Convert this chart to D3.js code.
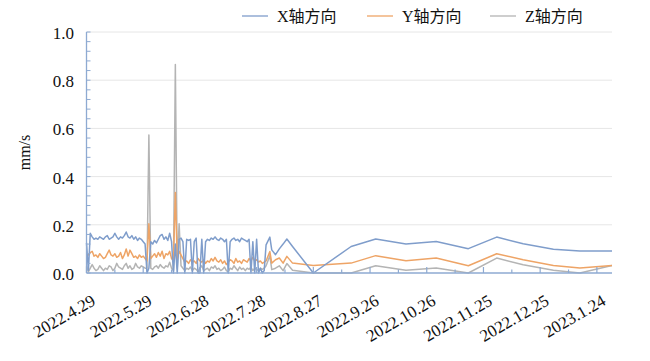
<!DOCTYPE html>
<html><head><meta charset="utf-8">
<script src="https://cdn.jsdelivr.net/npm/d3@7"></script>
<style>body{margin:0;background:#fff}svg{display:block}</style>
</head><body>
<svg id="c" width="650" height="361"></svg>
<script>
// ---- data ----
const seriesNames = ["X轴方向", "Y轴方向", "Z轴方向"];
const dates = [
"2022-04-29","2022-04-30","2022-05-01","2022-05-02","2022-05-03","2022-05-04","2022-05-05","2022-05-06","2022-05-07","2022-05-08",
"2022-05-09","2022-05-10","2022-05-11","2022-05-12","2022-05-13","2022-05-14","2022-05-15","2022-05-16","2022-05-17","2022-05-18",
"2022-05-19","2022-05-20","2022-05-21","2022-05-22","2022-05-23","2022-05-24","2022-05-25","2022-05-26","2022-05-27","2022-05-28",
"2022-05-29","2022-05-30","2022-05-31","2022-06-01","2022-06-02","2022-06-03","2022-06-04","2022-06-05","2022-06-06","2022-06-07",
"2022-06-08","2022-06-09","2022-06-10","2022-06-11","2022-06-12","2022-06-13","2022-06-14","2022-06-15","2022-06-16","2022-06-17",
"2022-06-18","2022-06-19","2022-06-20","2022-06-21","2022-06-22","2022-06-23","2022-06-24","2022-06-25","2022-06-26","2022-06-27",
"2022-06-28","2022-06-29","2022-06-30","2022-07-01","2022-07-02","2022-07-03","2022-07-04","2022-07-05","2022-07-06","2022-07-07",
"2022-07-08","2022-07-09","2022-07-10","2022-07-11","2022-07-12","2022-07-13","2022-07-14","2022-07-15","2022-07-16","2022-07-17",
"2022-07-18","2022-07-19","2022-07-20","2022-07-21","2022-07-22","2022-07-23","2022-07-24","2022-07-25","2022-07-26","2022-07-27",
"2022-07-28","2022-07-29","2022-07-30","2022-07-31","2022-08-01",
"2022-08-02","2022-08-04","2022-08-05","2022-08-07","2022-08-09","2022-08-11","2022-08-13","2022-08-16","2022-08-27","2022-09-16",
"2022-09-29","2022-10-15","2022-10-31","2022-11-17","2022-12-02","2022-12-16","2023-01-01","2023-01-15","2023-02-01"
];
const xValues = [
0.125,0.01,0.165,0.15,0.14,0.145,0.14,0.15,0.145,0.14,
0.15,0.155,0.14,0.145,0.15,0.165,0.15,0.14,0.15,0.145,
0.155,0.17,0.15,0.145,0.155,0.14,0.15,0.135,0.145,0.14,
0.13,0.12,0.0,0.02,0.13,0.12,0.135,0.125,0.14,0.155,
0.16,0.14,0.15,0.135,0.165,0.13,0.0,0.12,0.0,0.14,
0.145,0.13,0.0,0.14,0.135,0.14,0.0,0.13,0.145,0.0,
0.0,0.14,0.0,0.13,0.14,0.135,0.145,0.14,0.15,0.14,
0.135,0.145,0.14,0.13,0.14,0.0,0.13,0.14,0.145,0.135,
0.14,0.13,0.145,0.14,0.135,0.13,0.14,0.0,0.13,0.0,
0.14,0.0,0.02,0.0,0.01,
0.117,0.149,0.096,0.076,0.10,0.12,0.141,0.110,0.0,0.110,
0.141,0.120,0.131,0.101,0.149,0.121,0.099,0.091,0.091
];
const yValues = [
0.07,0.075,0.085,0.09,0.07,0.075,0.065,0.08,0.07,0.06,
0.065,0.08,0.095,0.075,0.07,0.08,0.065,0.07,0.085,0.06,
0.075,0.10,0.07,0.095,0.08,0.065,0.07,0.06,0.075,0.065,
0.07,0.06,0.05,0.204,0.06,0.07,0.08,0.065,0.085,0.07,
0.09,0.06,0.08,0.075,0.09,0.06,0.05,0.334,0.06,0.09,
0.075,0.06,0.045,0.05,0.04,0.055,0.045,0.05,0.04,0.06,
0.05,0.045,0.055,0.04,0.05,0.045,0.06,0.05,0.065,0.05,
0.045,0.055,0.04,0.05,0.035,0.045,0.055,0.05,0.04,0.06,
0.045,0.05,0.04,0.055,0.05,0.045,0.06,0.05,0.065,0.05,
0.055,0.045,0.05,0.04,0.045,
0.05,0.089,0.041,0.055,0.062,0.041,0.069,0.041,0.031,0.041,
0.072,0.051,0.062,0.030,0.080,0.055,0.031,0.021,0.031
];
const zValues = [
0.03,0.005,0.02,0.035,0.02,0.01,0.015,0.03,0.02,0.01,
0.02,0.015,0.03,0.025,0.01,0.02,0.04,0.025,0.02,0.015,
0.03,0.04,0.02,0.03,0.015,0.02,0.04,0.025,0.02,0.03,
0.025,0.02,0.02,0.573,0.02,0.015,0.025,0.03,0.02,0.035,
0.025,0.02,0.03,0.025,0.045,0.02,0.01,0.865,0.02,0.204,
0.03,0.02,0.01,0.02,0.015,0.025,0.01,0.02,0.015,0.005,
0.02,0.03,0.01,0.015,0.02,0.01,0.025,0.02,0.03,0.015,
0.02,0.01,0.015,0.025,0.01,0.005,0.02,0.015,0.03,0.02,
0.01,0.025,0.015,0.02,0.01,0.02,0.015,0.025,0.01,0.02,
0.015,0.01,0.02,0.015,0.02,
0.03,0.072,0.014,0.02,0.030,0.01,0.039,0.011,0.0,0.0,
0.030,0.011,0.021,0.0,0.062,0.034,0.011,0.0,0.031
];
const xTickLabels = ["2022.4.29","2022.5.29","2022.6.28","2022.7.28","2022.8.27","2022.9.26","2022.10.26","2022.11.25","2022.12.25","2023.1.24"];
const yTickValues = [0, 0.2, 0.4, 0.6, 0.8, 1.0];
const yLabel = "mm/s";
const xDomain = ["2022-04-29", "2023-02-01"];

// ---- drawing ----
const colors = ["#7f9dcb", "#eea466", "#b4b4b4"];
const axisColor = "#8eaad2";
const serif = "Liberation Serif, Tinos, Times New Roman, DejaVu Serif, serif";
const mixed = "Liberation Serif, Tinos, Times New Roman, Noto Sans CJK SC, serif";
const parse = d3.timeParse("%Y-%m-%d");
const parseLabel = d3.timeParse("%Y.%m.%d");
const L = 86.5, R = 612, T = 32, B = 273;
const svg = d3.select("#c");
const x = d3.scaleTime().domain(xDomain.map(parse)).range([L, R]);
const y = d3.scaleLinear().domain([0, 1]).range([B, T]);

// gridlines
svg.append("g").selectAll("line").data(yTickValues.filter(v => v > 0)).join("line")
  .attr("x1", L).attr("x2", R).attr("y1", d => y(d)).attr("y2", d => y(d))
  .attr("stroke", "#e6e6e6").attr("stroke-width", 1);

// series
const pts = dates.map(parse);
const series = [xValues, yValues, zValues];
const line = d3.line().x(d => x(d[0])).y(d => y(d[1]));
[2, 1, 0].forEach(i => {
  svg.append("path").datum(pts.map((p, k) => [p, series[i][k]]))
    .attr("d", line).attr("fill", "none").attr("stroke", colors[i])
    .attr("stroke-width", 1.5).attr("stroke-linejoin", "round");
});

// y axis
const yMinor = d3.range(0, 1.0001, 0.04);
const gy = svg.append("g");
gy.append("line").attr("x1", L).attr("x2", L).attr("y1", T).attr("y2", B)
  .attr("stroke", axisColor).attr("stroke-width", 1.3);
gy.selectAll("line.t").data(yMinor).join("line").attr("class", "t")
  .attr("x1", L).attr("x2", L + 4).attr("y1", d => y(d)).attr("y2", d => y(d))
  .attr("stroke", axisColor).attr("stroke-width", 1);
gy.selectAll("text").data(yTickValues).join("text")
  .attr("x", 74).attr("y", d => y(d) + 7).attr("text-anchor", "end")
  .style("font-family", serif).style("font-size", "17px").attr("fill", "#111")
  .text(d => d3.format(".1f")(d));
svg.append("text").attr("transform", `translate(30,${(T + B) / 2}) rotate(-90)`)
  .attr("text-anchor", "middle").style("font-family", serif).style("font-size", "16px")
  .attr("fill", "#111").text(yLabel);

// x axis
const labelDates = xTickLabels.map(parseLabel);
const minorDates = labelDates.map(d => d3.timeDay.offset(d, 15));
const gx = svg.append("g");
gx.append("line").attr("x1", L).attr("x2", R).attr("y1", B).attr("y2", B)
  .attr("stroke", axisColor).attr("stroke-width", 1.5);
gx.selectAll("line.mj").data(labelDates).join("line").attr("class", "mj")
  .attr("x1", d => x(d)).attr("x2", d => x(d)).attr("y1", B).attr("y2", B - 6)
  .attr("stroke", axisColor).attr("stroke-width", 1.2);
gx.selectAll("line.mn").data(minorDates.filter(d => x(d) < R)).join("line").attr("class", "mn")
  .attr("x1", d => x(d)).attr("x2", d => x(d)).attr("y1", B).attr("y2", B - 3.5)
  .attr("stroke", axisColor).attr("stroke-width", 1.2);
gx.selectAll("text").data(xTickLabels).join("text")
  .attr("transform", (d, i) => `translate(${x(labelDates[i]) + 10},304) rotate(-30)`)
  .attr("text-anchor", "end").style("font-family", serif).style("font-size", "17px")
  .attr("fill", "#111").text(d => d);

// legend
const legX = [242, 367, 490];
const lg = svg.append("g");
seriesNames.forEach((n, i) => {
  lg.append("line").attr("x1", legX[i]).attr("x2", legX[i] + 26).attr("y1", 16).attr("y2", 16)
    .attr("stroke", colors[i]).attr("stroke-width", 1.3);
  lg.append("text").attr("x", legX[i] + 35).attr("y", 21.5)
    .style("font-family", mixed).style("font-size", "16px").attr("fill", "#111").text(n);
});
</script>
</body></html>
